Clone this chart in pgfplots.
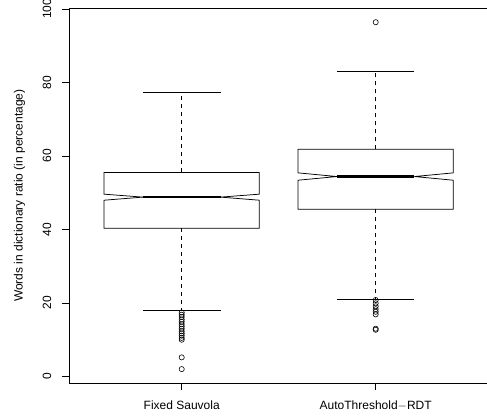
\documentclass[border=0pt]{standalone}
\usepackage{fontspec}
\setmainfont{Liberation Sans}
\usepackage{pgfplots}
\pgfplotsset{compat=1.18}
\begin{document}
\begin{tikzpicture}[font=\fontsize{12bp}{14bp}\selectfont]
\useasboundingbox (-69.2bp,-34bp) rectangle (417.8bp,383bp);
\begin{axis}[
  at={(0,0)}, anchor=south west,
  scale only axis, width=419bp, height=374.7bp,
  xmin=0.42, xmax=2.58, ymin=-1.78, ymax=100.18,
  axis line style={black, line width=0.75bp},
  tick pos=left, tick align=outside, major tick length=7bp,
  tick style={black, line width=0.75bp},
  xtick={1,2}, xticklabels={Fixed Sauvola, AutoThreshold\ensuremath{-}RDT},
  ytick={0,20,40,60,80,100},
  /pgf/number format/assume math mode=true,
  tick label style={font=\fontsize{12bp}{14bp}\selectfont},
  yticklabel style={rotate=90, anchor=base, inner sep=0pt},
  yticklabel shift=11bp,
  xticklabel style={anchor=base, inner sep=0pt},
  xticklabel shift=19bp,
  ylabel={Words in dictionary ratio (in percentage)},
  ylabel style={at={(axis description cs:-0.1186,0.5)}, anchor=center, rotate=0, font=\fontsize{12bp}{14bp}\selectfont},
  clip=false,
]
% Box 1: Fixed Sauvola (notched)
\addplot[black, line width=0.75bp, fill=white] coordinates {
  (0.6,40.3) (0.6,47.96) (0.8,48.8) (0.6,49.6) (0.6,55.5)
  (1.4,55.5) (1.4,49.6) (1.2,48.8) (1.4,47.96) (1.4,40.3)
} -- cycle;
\addplot[black, line width=2.5bp] coordinates {(0.8,48.8) (1.2,48.8)};
\addplot[black, line width=0.75bp, dash pattern=on 4bp off 4bp] coordinates {(1,55.5) (1,77.2)};
\addplot[black, line width=0.75bp, dash pattern=on 4bp off 4bp] coordinates {(1,40.3) (1,18.1)};
\addplot[black, line width=0.75bp] coordinates {(0.8,77.2) (1.2,77.2)};
\addplot[black, line width=0.75bp] coordinates {(0.8,18.1) (1.2,18.1)};
\addplot[only marks, mark=o, mark size=2.6bp, black, mark options={line width=0.6bp}] coordinates {
  (1,17.4) (1,16.8) (1,16.2) (1,15.5) (1,14.9) (1,14.2) (1,13.6) (1,13.0)
  (1,12.3) (1,11.7) (1,11.1) (1,10.5) (1,10.0) (1,5.2) (1,2.0)
};
% Box 2: AutoThreshold-RDT (notched)
\addplot[black, line width=0.75bp, fill=white] coordinates {
  (1.6,45.5) (1.6,53.4) (1.8,54.4) (1.6,55.4) (1.6,61.8)
  (2.4,61.8) (2.4,55.4) (2.2,54.4) (2.4,53.4) (2.4,45.5)
} -- cycle;
\addplot[black, line width=2.5bp] coordinates {(1.8,54.4) (2.2,54.4)};
\addplot[black, line width=0.75bp, dash pattern=on 4bp off 4bp] coordinates {(2,61.8) (2,83.1)};
\addplot[black, line width=0.75bp, dash pattern=on 4bp off 4bp] coordinates {(2,45.5) (2,21.1)};
\addplot[black, line width=0.75bp] coordinates {(1.8,83.1) (2.2,83.1)};
\addplot[black, line width=0.75bp] coordinates {(1.8,21.1) (2.2,21.1)};
\addplot[only marks, mark=o, mark size=2.6bp, black, mark options={line width=0.6bp}] coordinates {
  (2,20.8) (2,19.9) (2,19.1) (2,18.3) (2,17.6) (2,16.9) (2,13.0) (2,12.7) (2,96.4)
};
\end{axis}
\end{tikzpicture}
\end{document}
